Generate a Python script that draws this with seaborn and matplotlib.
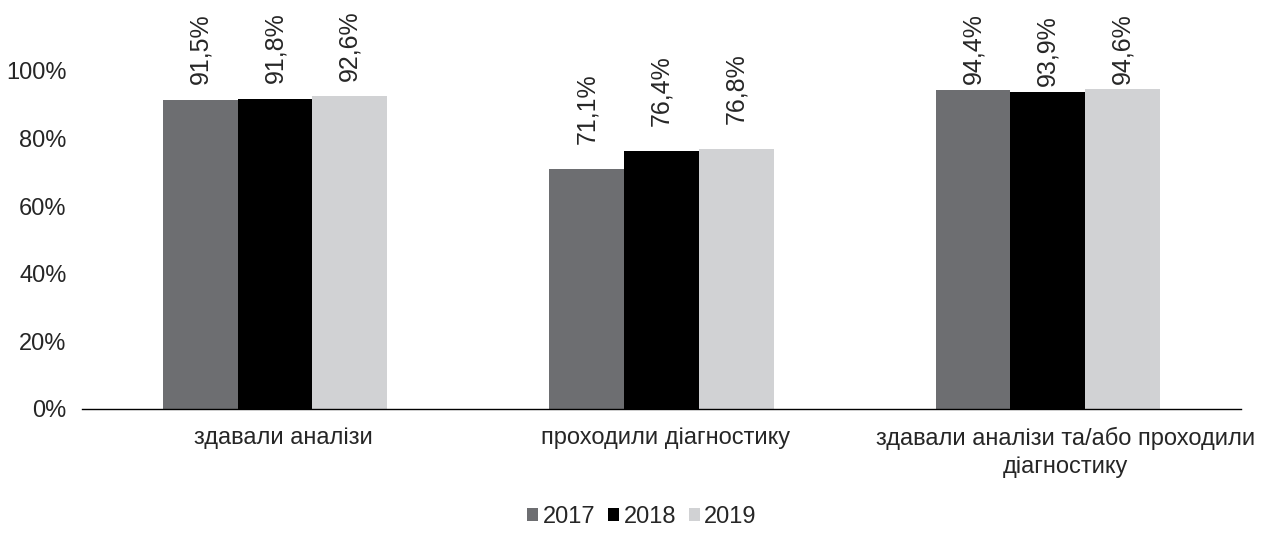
import numpy as np
import pandas as pd
import matplotlib
matplotlib.use('Agg')
import matplotlib.pyplot as plt
import matplotlib.transforms as mtransforms
import seaborn as sns

# ---- data ----
categories = ['здавали аналізи', 'проходили діагностику',
              'здавали аналізи та/або проходили\nдіагностику']
years = ['2017', '2018', '2019']
vals_2017 = [91.5, 71.1, 94.4]
vals_2018 = [91.8, 76.4, 93.9]
vals_2019 = [92.6, 76.8, 94.6]
colors = ['#6d6e71', '#000000', '#d1d2d4']

df = pd.DataFrame({
    'cat': categories * 3,
    'year': [y for y in years for _ in categories],
    'val': vals_2017 + vals_2018 + vals_2019,
})

sns.set_style('white')
plt.rcParams['font.family'] = ['Liberation Sans', 'DejaVu Sans']

fig = plt.figure(figsize=(12.65, 5.43), dpi=100)
ax = fig.add_axes([0.0648, 0.2468, 0.9162, 0.747])

sns.barplot(data=df, x='cat', y='val', hue='year', palette=colors,
            width=0.58, gap=0, saturation=1, linewidth=0, ax=ax, legend=True)

# label offsets differ per group in the original (Excel pushes them around)
label_pad = [11, 18, 4]
for cont in ax.containers:
    for i, (bar, v) in enumerate(zip(cont.patches, cont.datavalues)):
        ax.annotate(f'{v:.1f}%'.replace('.', ','),
                    (bar.get_x() + bar.get_width() / 2, bar.get_height()),
                    xytext=(0, label_pad[i]), textcoords='offset points',
                    rotation=90, ha='center', va='bottom', fontsize=18)

ax.set_xlim(-0.5, 2.5)
ax.set_ylim(0, 120)
ax.set_yticks(np.arange(0, 101, 20))
ax.set_yticklabels([f'{t}%' for t in range(0, 101, 20)], fontsize=17)
ax.tick_params(axis='x', labelsize=17, length=0, pad=13)
ax.tick_params(axis='y', length=0, pad=11)
ax.set_xlabel('')
ax.set_ylabel('')

# category labels in the original sit slightly right of the group centre
shifts = [6, 3, 13]
for lab, dx in zip(ax.get_xticklabels(), shifts):
    lab.set_linespacing(1.35)
    lab.set_transform(lab.get_transform() +
                      mtransforms.ScaledTranslation(dx / 72, 0, fig.dpi_scale_trans))

for s in ['top', 'right', 'left']:
    ax.spines[s].set_visible(False)
ax.spines['bottom'].set_color('#000000')
ax.spines['bottom'].set_linewidth(1)

ax.legend(loc='center', bbox_to_anchor=(0.5075, 0.048), bbox_transform=fig.transFigure,
          ncol=3, frameon=False, fontsize=17, handlelength=0.45, handleheight=0.45,
          handletextpad=0.2, columnspacing=0.55)

fig.savefig('out.png', dpi=100)
